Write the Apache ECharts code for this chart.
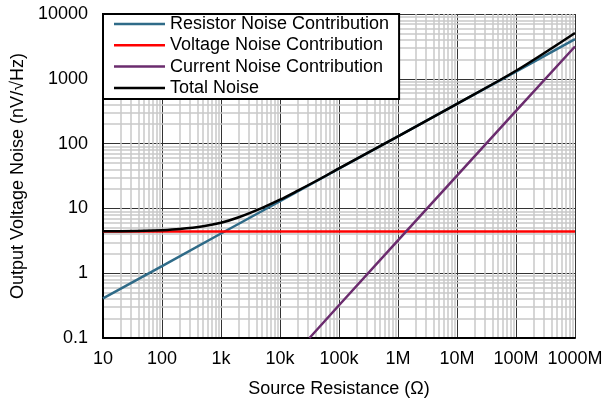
<!DOCTYPE html>
<html>
<head>
<meta charset="utf-8">
<script src="https://cdn.jsdelivr.net/npm/echarts@6/dist/echarts.min.js"></script>
<style>
  * { margin: 0; padding: 0; }
  body { background: #fff; }
</style>
</head>
<body>
<div id="main" style="width:602px;height:400px;"></div>
<script>
// source resistance (ohm) and noise readings (nV/rtHz)
var resistorR = [10, 100, 1e3, 1e4, 1e5, 1e6, 1e7, 1e8, 1e9];
var resistorNoise = [0.41, 1.29, 4.1, 12.9, 41, 129, 410, 1290, 4100];

var voltageR = [10, 1e9];
var voltageNoise = [4.4, 4.4];

var currentR = [31600, 1e5, 1e6, 1e7, 1e8, 1e9];
var currentNoise = [0.1, 0.32, 3.2, 32, 320, 3150];

var totalR = [10, 20, 50, 100, 200, 500, 1e3, 2e3, 5e3, 1e4, 2e4, 5e4, 1e5, 1e6, 1e7, 1e8, 1e9];
var totalNoise = [4.45, 4.45, 4.5, 4.6, 4.8, 5.3, 6.0, 7.3, 10.2, 13.6, 18.8, 29.2, 41.5, 129, 411, 1330, 5100];

var xTickLabels = {10: '10', 100: '100', 1000: '1k', 10000: '10k', 100000: '100k',
  1000000: '1M', 10000000: '10M', 100000000: '100M', 1000000000: '1000M'};

function pairs(xs, ys) {
  return xs.map(function (x, i) { return [x, ys[i]]; });
}

// minor grid lines at 2..9 of each decade
var minorX = [], minorY = [];
for (var d = 10; d < 1e9; d *= 10) {
  for (var k = 2; k <= 9; k++) minorX.push({ xAxis: d * k });
}
for (var e = 0.1; e < 10000; e *= 10) {
  for (var k2 = 2; k2 <= 9; k2++) minorY.push({ yAxis: +(e * k2).toPrecision(3) });
}

var chart = echarts.init(document.getElementById('main'));
var font = 'Liberation Sans, Arial, sans-serif';

chart.setOption({
  animation: false,
  textStyle: { fontFamily: font },
  grid: { left: 103, right: 27, top: 14, bottom: 62, outerBoundsMode: 'none', containLabel: false },
  legend: {
    orient: 'vertical',
    left: 103,
    top: 14,
    padding: [1, 10, 2, 11],
    itemGap: 3.3,
    itemWidth: 51,
    itemHeight: 2.5,
    icon: 'rect',
    backgroundColor: '#fff',
    borderColor: '#000',
    borderWidth: 2,
    z: 10,
    textStyle: { fontSize: 18, color: '#000', fontFamily: font, lineHeight: 18 },
    data: ['Resistor Noise Contribution', 'Voltage Noise Contribution', 'Current Noise Contribution', 'Total Noise']
  },
  xAxis: {
    type: 'log',
    logBase: 10,
    min: 10,
    max: 1e9,
    name: 'Source Resistance (Ω)',
    nameLocation: 'middle',
    nameGap: 42,
    nameTextStyle: { fontSize: 18, color: '#000', fontFamily: font },
    axisLine: { show: true, lineStyle: { color: '#000', width: 2 } },
    axisTick: { show: false },
    axisLabel: {
      fontSize: 18, color: '#000', margin: 12, fontFamily: font,
      formatter: function (v) { return xTickLabels[Math.round(v)] || ''; }
    },
    splitLine: { show: true, lineStyle: { color: '#333', width: 1 } }
  },
  yAxis: {
    type: 'log',
    logBase: 10,
    min: 0.1,
    max: 10000,
    name: 'Output Voltage Noise (nV/√Hz)',
    nameLocation: 'middle',
    nameGap: 71,
    nameTextStyle: { fontSize: 18, color: '#000', fontFamily: font },
    axisLine: { show: true, lineStyle: { color: '#000', width: 2 } },
    axisTick: { show: false },
    axisLabel: {
      fontSize: 18, color: '#000', margin: 15, fontFamily: font,
      formatter: function (v) { return v < 1 ? '0.1' : String(Math.round(v)); }
    },
    splitLine: { show: true, lineStyle: { color: '#333', width: 1 } }
  },
  series: [
    {
      name: 'grid',
      type: 'line',
      data: [],
      silent: true,
      z: 0,
      markLine: {
        silent: true,
        z: 0,
        symbol: 'none',
        label: { show: false },
        emphasis: { disabled: true },
        lineStyle: { color: '#c8c8c8', width: 1.5, type: 'solid' },
        data: minorX.concat(minorY)
      }
    },
    {
      name: 'Resistor Noise Contribution',
      type: 'line',
      data: pairs(resistorR, resistorNoise),
      symbol: 'none',
      lineStyle: { color: '#2f6b88', width: 2.5 },
      itemStyle: { color: '#2f6b88' },
      z: 3
    },
    {
      name: 'Voltage Noise Contribution',
      type: 'line',
      data: pairs(voltageR, voltageNoise),
      symbol: 'none',
      lineStyle: { color: '#ff0000', width: 2.5 },
      itemStyle: { color: '#ff0000' },
      z: 3
    },
    {
      name: 'Current Noise Contribution',
      type: 'line',
      data: pairs(currentR, currentNoise),
      symbol: 'none',
      lineStyle: { color: '#6b2c6e', width: 2.5 },
      itemStyle: { color: '#6b2c6e' },
      z: 3
    },
    {
      name: 'Total Noise',
      type: 'line',
      data: pairs(totalR, totalNoise),
      symbol: 'none',
      smooth: 0.3,
      lineStyle: { color: '#000', width: 2.5 },
      itemStyle: { color: '#000' },
      z: 4
    }
  ]
});
</script>
</body>
</html>
